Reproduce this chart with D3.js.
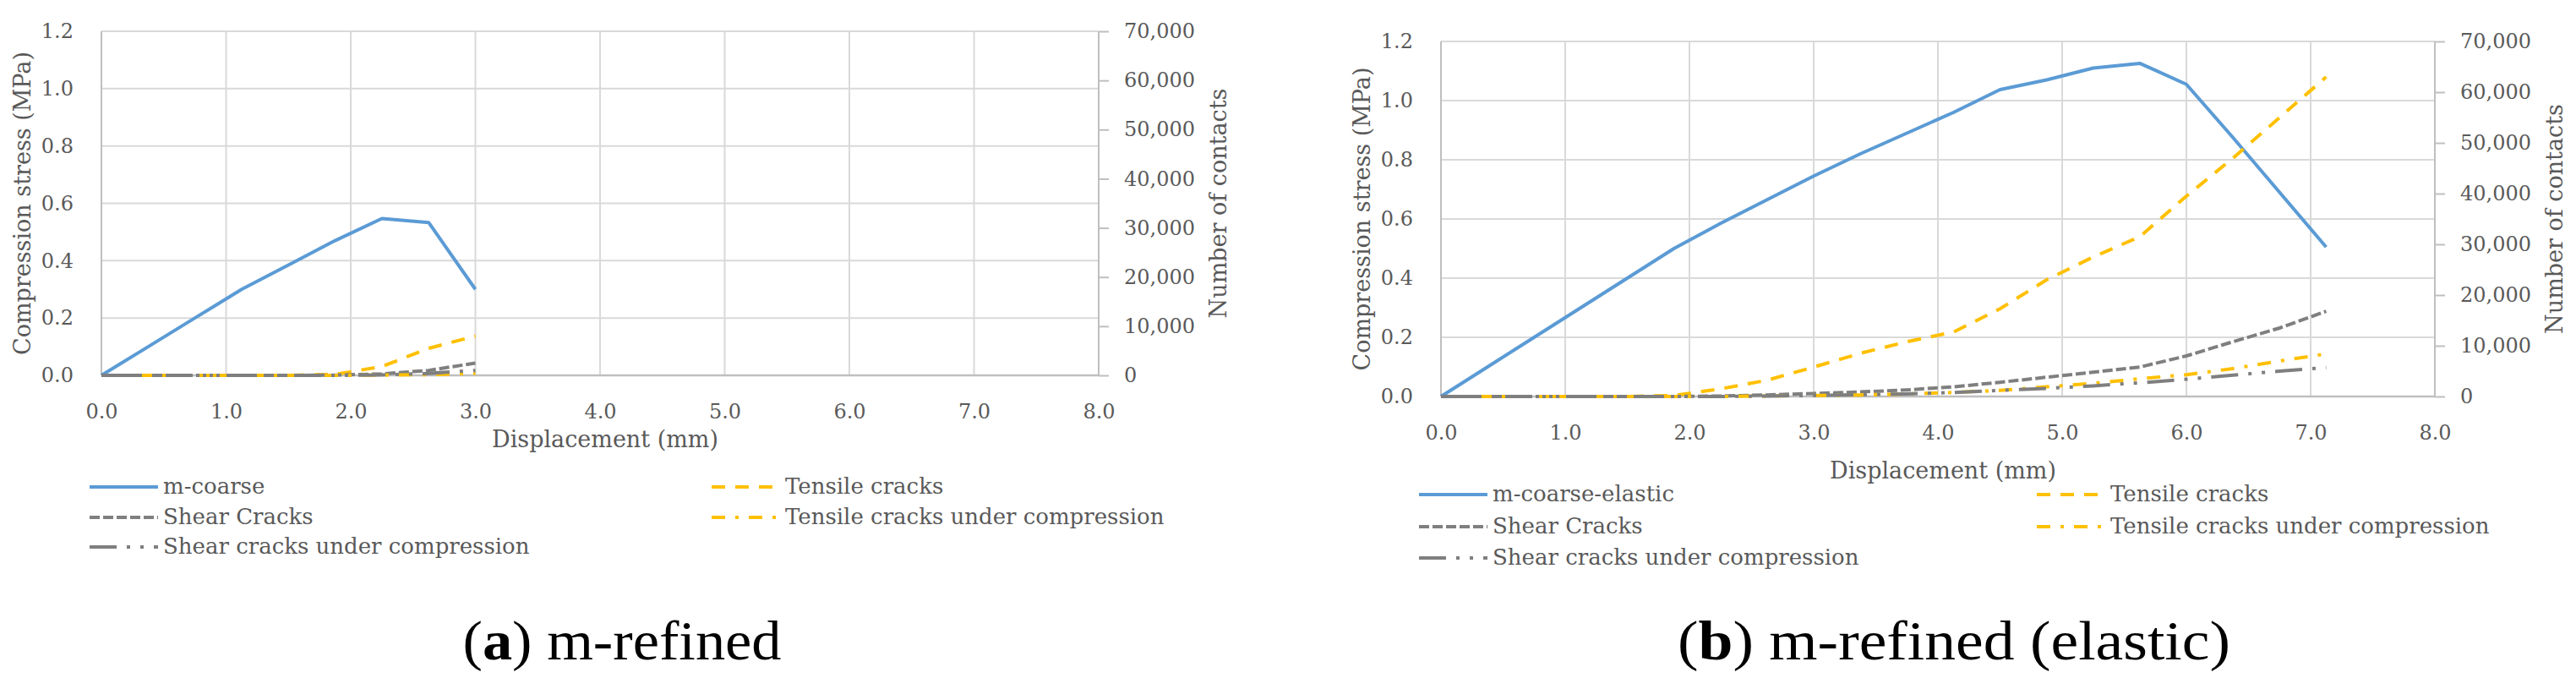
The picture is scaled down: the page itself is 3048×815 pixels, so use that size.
<!DOCTYPE html>
<html lang="en">
<head>
<meta charset="utf-8" />
<title>Compression stress and crack counts vs displacement</title>
<script src="https://d3js.org/d3.v7.min.js"></script>
<style>
  body { margin: 0; background: #fff; }
  text { font-family: "DejaVu Serif", serif; fill: #595959; }
  .caption { font-family: "Liberation Serif", serif; fill: #000; }
</style>
</head>
<body>
<script>
var w = 3048, h = 815;

// series names (legend order, Excel row-major)
var seriesNames = ["Tensile cracks", "Shear Cracks", "Tensile cracks under compression", "Shear cracks under compression"];
var stressNameA = "m-coarse";
var stressNameB = "m-coarse-elastic";

// x tick values and label text
var xTicks = [0, 1, 2, 3, 4, 5, 6, 7, 8];
var yLeftTicks = [0, 0.2, 0.4, 0.6, 0.8, 1.0, 1.2];
var yRightTicks = [0, 10000, 20000, 30000, 40000, 50000, 60000, 70000];

// panel (a) m-refined
var dispA = [0, 0.375, 0.75, 1.125, 1.5, 1.875, 2.25, 2.625, 3.0];
var stressA = [0, 0.10, 0.20, 0.30, 0.385, 0.47, 0.547, 0.533, 0.30];
var tensileA = [0, 0, 0, 0, 0, 200, 1800, 5500, 8000];
var shearA = [0, 0, 0, 0, 0, 50, 300, 1000, 2500];
var tensileCompA = [0, 0, 0, 0, 0, 0, 50, 150, 400];
var shearCompA = [0, 0, 0, 0, 0, 0, 100, 400, 1000];

// panel (b) m-refined (elastic)
var dispB = [0, 0.375, 0.75, 1.125, 1.5, 1.875, 2.25, 2.625, 3.0, 3.375, 3.75, 4.125, 4.5, 4.875, 5.25, 5.625, 6.0, 6.375, 6.75, 7.125];
var stressB = [0, 0.10, 0.20, 0.30, 0.40, 0.50, 0.585, 0.665, 0.745, 0.82, 0.89, 0.96, 1.037, 1.07, 1.11, 1.126, 1.055, 0.875, 0.69, 0.505];
var tensileB = [0, 0, 0, 0, 0, 200, 1500, 3200, 5800, 8500, 10800, 12700, 17300, 23000, 27500, 31500, 39500, 47000, 55000, 63000];
var shearB = [0, 0, 0, 0, 0, 0, 100, 300, 600, 900, 1300, 1900, 2800, 3800, 4800, 5800, 8000, 10800, 13500, 16800];
var tensileCompB = [0, 0, 0, 0, 0, 0, 0, 100, 200, 300, 500, 800, 1200, 1900, 2600, 3500, 4300, 5500, 7000, 8400];
var shearCompB = [0, 0, 0, 0, 0, 0, 0, 100, 200, 350, 500, 800, 1200, 1600, 2100, 2700, 3400, 4200, 5000, 5700];

// line styles
var blue = "#5b9bd5", gold = "#ffc000", gray = "#7f7f7f";
var dashes = {
  "Tensile cracks": "16,12",
  "Shear Cracks": "12,4",
  "Tensile cracks under compression": "16,12,4,12",
  "Shear cracks under compression": "32,12,4,12,4,12"
};
var colors = {
  "Tensile cracks": gold,
  "Shear Cracks": gray,
  "Tensile cracks under compression": gold,
  "Shear cracks under compression": gray
};

var svg = d3.select("body").append("svg")
  .attr("width", w)
  .attr("height", h);

function drawPanel(p) {
  var x = d3.scaleLinear().domain([0, 8]).range([p.left, p.right]);
  var yL = d3.scaleLinear().domain([0, 1.2]).range([p.bottom, p.top]);
  var yR = d3.scaleLinear().domain([0, 70000]).range([p.bottom, p.top]);
  var g = svg.append("g");

  //gridlines
  g.selectAll(".hgrid").data(yLeftTicks).enter().append("line")
    .attr("x1", p.left).attr("x2", p.right)
    .attr("y1", function (d) { return yL(d); })
    .attr("y2", function (d) { return yL(d); })
    .attr("stroke", "#d9d9d9").attr("stroke-width", 2);
  g.selectAll(".vgrid").data(xTicks).enter().append("line")
    .attr("y1", p.top).attr("y2", p.bottom)
    .attr("x1", function (d) { return x(d); })
    .attr("x2", function (d) { return x(d); })
    .attr("stroke", function (d, i) { return i == 0 ? "#bfbfbf" : "#d9d9d9"; })
    .attr("stroke-width", 2);
  g.append("line")
    .attr("x1", p.left).attr("x2", p.right)
    .attr("y1", p.bottom).attr("y2", p.bottom)
    .attr("stroke", "#bfbfbf").attr("stroke-width", 2.5);

  //axes
  var ax = g.append("g").attr("transform", "translate(0," + p.bottom + ")")
    .call(d3.axisBottom(x).tickValues(xTicks).tickSize(0).tickPadding(34).tickFormat(d3.format(".1f")));
  var al = g.append("g").attr("transform", "translate(" + p.left + ",0)")
    .call(d3.axisLeft(yL).tickValues(yLeftTicks).tickSize(0).tickPadding(33).tickFormat(d3.format(".1f")));
  var ar = g.append("g").attr("transform", "translate(" + p.right + ",0)")
    .call(d3.axisRight(yR).tickValues(yRightTicks).tickSize(12).tickPadding(18).tickFormat(d3.format(",")));
  [ax, al, ar].forEach(function (a) {
    a.attr("font-family", null).attr("font-size", null);
    a.select(".domain").remove();
    a.selectAll("text").style("font-size", "24px").attr("fill", null);
  });
  ar.append("line").attr("x1", 0).attr("x2", 0).attr("y1", p.top).attr("y2", p.bottom)
    .attr("stroke", "#bfbfbf").attr("stroke-width", 2);
  ar.selectAll(".tick line").attr("stroke", "#bfbfbf").attr("stroke-width", 2);

  //axis titles
  var cy = (p.top + p.bottom) / 2;
  g.append("text")
    .attr("transform", "translate(" + (p.left - 93) + "," + cy + ") rotate(-90)")
    .attr("text-anchor", "middle").attr("dy", "0.35em")
    .style("font-size", "27px").text("Compression stress (MPa)");
  g.append("text")
    .attr("transform", "translate(" + (p.right + 142) + "," + cy + ") rotate(-90)")
    .attr("text-anchor", "middle").attr("dy", "0.35em")
    .style("font-size", "27px").text("Number of contacts");
  g.append("text")
    .attr("x", (p.left + p.right) / 2 + 6).attr("y", p.xTitleY)
    .attr("text-anchor", "middle").attr("dy", "0.35em")
    .style("font-size", "27px").text("Displacement (mm)");

  //data lines
  var lineL = d3.line().x(function (d) { return x(d[0]); }).y(function (d) { return yL(d[1]); });
  var lineR = d3.line().x(function (d) { return x(d[0]); }).y(function (d) { return yR(d[1]); });
  g.append("path")
    .attr("d", lineL(d3.zip(p.disp, p.stress)))
    .attr("fill", "none").attr("stroke", blue).attr("stroke-width", 4)
    .attr("stroke-linejoin", "round");
  seriesNames.forEach(function (name, i) {
    g.append("path")
      .attr("d", lineR(d3.zip(p.disp, p.cracks[i])))
      .attr("fill", "none").attr("stroke", colors[name]).attr("stroke-width", 4)
      .attr("stroke-dasharray", dashes[name]);
  });

  //legend
  var items = [
    { name: p.stressName, color: blue, dash: null, col: 0, row: 0 },
    { name: seriesNames[0], color: gold, dash: dashes[seriesNames[0]], col: 1, row: 0 },
    { name: seriesNames[1], color: gray, dash: dashes[seriesNames[1]], col: 0, row: 1 },
    { name: seriesNames[2], color: gold, dash: dashes[seriesNames[2]], col: 1, row: 1 },
    { name: seriesNames[3], color: gray, dash: dashes[seriesNames[3]], col: 0, row: 2 }
  ];
  var leg = g.selectAll(".leg").data(items).enter().append("g")
    .attr("transform", function (d) {
      return "translate(" + p.legendX[d.col] + "," + p.legendY[d.row] + ")";
    });
  leg.append("line")
    .attr("x1", 0).attr("x2", 81).attr("y1", 0).attr("y2", 0)
    .attr("stroke", function (d) { return d.color; })
    .attr("stroke-width", 4)
    .attr("stroke-dasharray", function (d) { return d.dash; });
  leg.append("text")
    .attr("x", 87).attr("dy", "0.3em")
    .style("font-size", "26px")
    .text(function (d) { return d.name; });

  //caption
  var cap = svg.append("text").attr("class", "caption")
    .attr("x", p.capX).attr("y", 780)
    .attr("text-anchor", "middle")
    .attr("textLength", p.capLen).attr("lengthAdjust", "spacingAndGlyphs")
    .style("font-size", "66px");
  cap.append("tspan").text("(");
  cap.append("tspan").attr("font-weight", "bold").text(p.capLetter);
  cap.append("tspan").text(") " + p.capText);
}

drawPanel({
  left: 120, right: 1300, top: 37, bottom: 444,
  xTitleY: 520, legendX: [106, 842], legendY: [576, 612, 647],
  disp: dispA, stress: stressA, stressName: stressNameA,
  cracks: [tensileA, shearA, tensileCompA, shearCompA],
  capX: 736, capLen: 377, capLetter: "a", capText: "m-refined"
});

drawPanel({
  left: 1705, right: 2881, top: 49, bottom: 469,
  xTitleY: 557, legendX: [1679, 2410], legendY: [585, 623, 660],
  disp: dispB, stress: stressB, stressName: stressNameB,
  cracks: [tensileB, shearB, tensileCompB, shearCompB],
  capX: 2312, capLen: 654, capLetter: "b", capText: "m-refined (elastic)"
});
</script>
</body>
</html>
